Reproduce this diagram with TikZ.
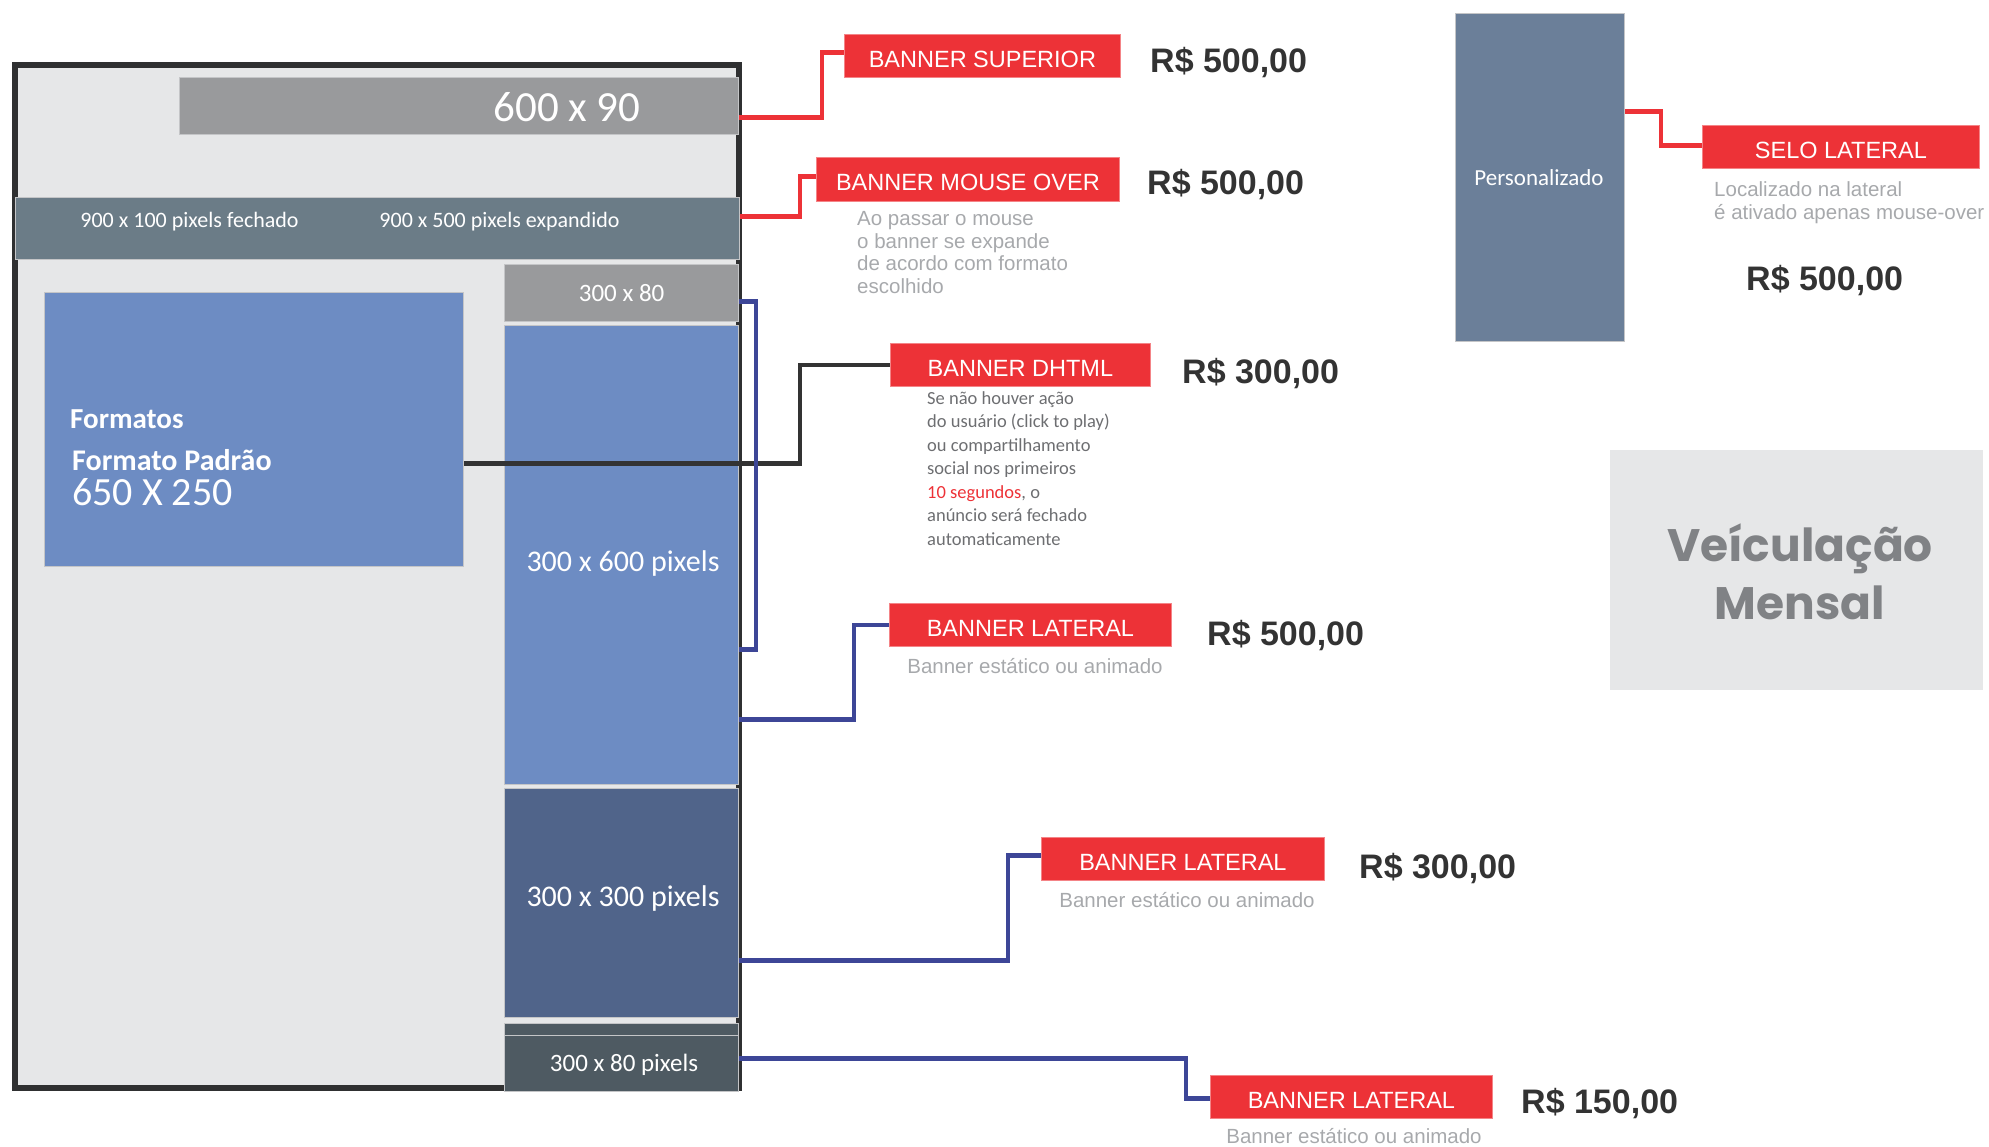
\documentclass[tikz,border=0pt]{standalone}
\usepackage{fontspec}
\setmainfont{Liberation Sans}
\newfontfamily\calib{Carlito}
\newfontfamily\geofont{Poppins}
\usetikzlibrary{calc}

\definecolor{pagegray}{HTML}{E6E7E8}
\definecolor{framedark}{HTML}{2F3031}
\definecolor{boxgray}{HTML}{999A9C}
\definecolor{bandslate}{HTML}{6B7C87}
\definecolor{midblue}{HTML}{6D8CC3}
\definecolor{deepblue}{HTML}{50648A}
\definecolor{darkslate}{HTML}{4E5A62}
\definecolor{persoblue}{HTML}{6B7F99}
\definecolor{tagred}{HTML}{ED3237}
\definecolor{wireblue}{HTML}{3D4697}
\definecolor{notegray}{HTML}{A7A9AC}
\definecolor{textgray}{HTML}{6D6E71}
\definecolor{pricegray}{HTML}{333333}
\definecolor{veicgray}{HTML}{808285}
\definecolor{edgegray}{HTML}{C4C5C7}

\newcommand{\fsz}[2]{\fontsize{#1}{#2}\selectfont}

\begin{document}
\begin{tikzpicture}[x=1pt, y=-1pt,
    slab/.style={draw=edgegray, line width=1.2pt, inner sep=0pt, anchor=north west},
    txt/.style={inner sep=0pt, text=white},
    redtag/.style={fill=tagred, draw=tagred!60!white, line width=0.8pt, text=white, font=\fsz{23.5}{28},
        inner sep=0pt, anchor=north west, minimum height=43pt, text height=23pt, text depth=0pt},
    price/.style={anchor=base west, inner sep=0pt, text=pricegray, font=\bfseries\fsz{34}{40}},
    note/.style={anchor=north west, align=left, inner sep=0pt, text=notegray, font=\fsz{20.5}{22.7}},
    subnote/.style={anchor=base, inner sep=0pt, text=notegray, font=\fsz{20.5}{24}},
    wire/.style={line width=4.5pt}]

    \useasboundingbox (0,0) rectangle (1989,1146);

    % Draw the page frame
    \draw[fill=pagegray, draw=framedark, line width=6pt] (15,65) rectangle (739,1088);

    % Draw the ad slots
    \node[slab, fill=boxgray, minimum width=559pt, minimum height=57pt] (b600) at (179,77) {};
    \node[slab, fill=bandslate, minimum width=724pt, minimum height=62pt] (bmouse) at (14.5,197) {};
    \node[slab, fill=boxgray, minimum width=234pt, minimum height=57pt, text=white, font=\calib\fsz{25}{30}] (btop) at (504,264) {300 x 80};
    \node[slab, fill=midblue, minimum width=234pt, minimum height=459pt] (bsky) at (504,325) {};
    \node[slab, fill=deepblue, minimum width=234pt, minimum height=229pt] (b300) at (504,788) {};
    \node[slab, fill=darkslate, minimum width=234pt, minimum height=12pt] (bstrip) at (504,1023) {};
    \node[slab, fill=darkslate, minimum width=234pt, minimum height=56pt] (b80) at (504,1035) {};
    \node[slab, fill=midblue, minimum width=419pt, minimum height=274pt] (padrao) at (44,292) {};
    \node[slab, fill=persoblue, minimum width=169pt, minimum height=328pt] (perso) at (1455,13) {};
    \node[anchor=north west, fill=pagegray, inner sep=0pt, minimum width=373pt, minimum height=240pt] (veic) at (1610,450) {};

    % Texts in the slots
    \node[txt, font=\calib\fsz{43}{50}] (t600) at (567,107) {600 x 90};
    \node[txt, anchor=base, font=\calib\fsz{22}{26}] (tclosed) at (189.5,227) {900 x 100 pixels fechado};
    \node[txt, anchor=base, font=\calib\fsz{22}{26}] (topen) at (499.5,227) {900 x 500 pixels expandido};
    \node[txt, anchor=base, font=\calib\fsz{30}{36}] (tsky) at (623,571.5) {300 x 600 pixels};
    \node[txt, anchor=base, font=\calib\fsz{30}{36}] (t300) at (623,906.5) {300 x 300 pixels};
    \node[txt, anchor=base, font=\calib\fsz{25}{30}] (t80) at (624,1071) {300 x 80 pixels};
    \node[txt, anchor=base west, font=\calib\bfseries\fsz{29}{34}] (tform) at (70,428) {Formatos};
    \node[txt, anchor=base west, font=\calib\bfseries\fsz{30}{36}] (tpadrao) at (72,470) {Formato Padrão};
    \node[txt, anchor=base west, font=\calib\fsz{40}{48}] (tsize) at (72,505) {650 X 250};
    \node[txt, anchor=base, font=\calib\fsz{23}{28}] (tperso) at (1539,185) {Personalizado};
    \node[align=center, inner sep=0pt, text=veicgray, font=\geofont\bfseries\fsz{45.5}{57.5}] (tveic) at (1800,572) {Veículação\\Mensal};

    % Red tags
    \node[redtag, minimum width=276pt] (lsup) at (844,34) {BANNER SUPERIOR};
    \node[redtag, minimum width=303pt, minimum height=44pt] (lmouse) at (816,157) {BANNER MOUSE OVER};
    \node[redtag, minimum width=260pt] (ldhtml) at (890,343) {BANNER DHTML};
    \node[redtag, minimum width=282pt] (llat1) at (889,603) {BANNER LATERAL};
    \node[redtag, minimum width=283pt] (llat2) at (1041,837) {BANNER LATERAL};
    \node[redtag, minimum width=282pt] (llat3) at (1210,1075) {BANNER LATERAL};
    \node[redtag, minimum width=277pt] (lselo) at (1702,125) {SELO LATERAL};

    % Prices
    \node[price] (psup) at (1150,72) {R\$ 500,00};
    \node[price] (pmouse) at (1147,194) {R\$ 500,00};
    \node[price] (pdhtml) at (1182,383) {R\$ 300,00};
    \node[price] (plat1) at (1207,645) {R\$ 500,00};
    \node[price] (plat2) at (1359,878) {R\$ 300,00};
    \node[price] (plat3) at (1521,1113) {R\$ 150,00};
    \node[price] (pselo) at (1746,290) {R\$ 500,00};

    % Notes under the tags
    \node[note] (dmouse) at (857,211) {Ao passar o mouse\\o banner se expande\\de acordo com formato\\escolhido};
    \node[note, text=textgray, font=\calib\fsz{18.5}{23.5}] (ddhtml) at (927,391) {Se não houver ação\\do usuário (click to play)\\ou compartilhamento\\social nos primeiros\\\textcolor{tagred}{10 segundos}, o\\anúncio será fechado\\automaticamente};
    \node[note, font=\fsz{20.5}{23}] (dselo) at (1714,181) {Localizado na lateral\\é ativado apenas mouse-over};
    \node[subnote] (sub1) at (1035,673) {Banner estático ou animado};
    \node[subnote] (sub2) at (1187,907) {Banner estático ou animado};
    \node[subnote] (sub3) at (1354,1143) {Banner estático ou animado};

    % Red connectors
    \draw[wire, tagred] ([yshift=-11.5pt]b600.east) -| ([xshift=-22pt, yshift=3.5pt]lsup.west) -- ([yshift=3.5pt]lsup.west);
    \draw[wire, tagred] ([yshift=12pt]bmouse.east) -| ([xshift=-16pt, yshift=3pt]lmouse.west) -- ([yshift=3pt]lmouse.west);
    \draw[wire, tagred] ([yshift=66pt]perso.east) -| ([xshift=-41pt, yshift=1.5pt]lselo.west) -- ([yshift=1.5pt]lselo.west);

    % Dark connector
    \draw[wire, pricegray] ([yshift=-34pt]padrao.east) -| ([xshift=-90pt]ldhtml.west) -- (ldhtml.west);

    % Blue connectors
    \draw[wire, wireblue] ([yshift=-8.5pt]btop.east) -- ++(17,0) |- ([yshift=-94.5pt]bsky.east);
    \draw[wire, wireblue] ([yshift=-164.5pt]bsky.east) -| ([xshift=-35pt]llat1.west) -- (llat1.west);
    \draw[wire, wireblue] ([yshift=-57.5pt]b300.east) -| ([xshift=-33pt, yshift=3.5pt]llat2.west) -- ([yshift=3.5pt]llat2.west);
    \draw[wire, wireblue] ([yshift=5pt]b80.east) -| ([xshift=-24pt, yshift=-1.5pt]llat3.west) -- ([yshift=-1.5pt]llat3.west);
\end{tikzpicture}
\end{document}
